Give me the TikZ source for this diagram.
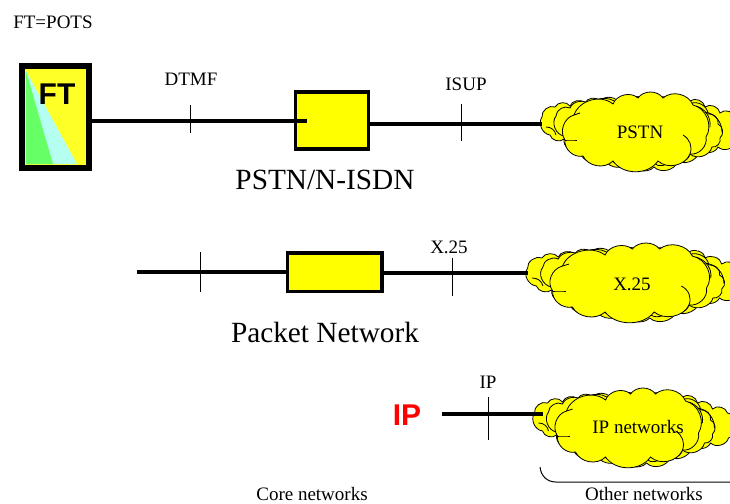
\documentclass[tikz,border=0pt]{standalone}
\usepackage{fontspec}
\setmainfont{Liberation Serif}
\newfontfamily\labelsans{Liberation Sans}
\definecolor{cloudyellow}{RGB}{255,255,0}
\definecolor{ftyellow}{RGB}{255,255,40}
\definecolor{ftgreen}{RGB}{102,255,102}
\definecolor{ftcyan}{RGB}{180,255,240}
\tikzset{
    wire/.style={line width=3.5pt},
    tick/.style={line width=1pt},
    netbox/.style={draw,line width=3.5pt,fill=cloudyellow,rectangle,minimum width=#1,inner sep=0pt},
    puff/.style={draw,line width=0.8pt,fill=cloudyellow,bend left=#1},
    curl/.style={line width=0.8pt,bend left=40},
    small/.style={font=\fontsize{19}{19}\selectfont},
    big/.style={font=\fontsize{29.3}{29.3}\selectfont},
    sanslabel/.style={font=\labelsans\bfseries\fontsize{30}{30}\selectfont},
    netcloud/.pic={
        %% back lobes
        \path[puff=60] (-98,-15) to (-85,-25) to (-70,-26) to (-55,-29) to (-40,-31) to (-20,-28) to (10,-28)
            to (35,-30) to (50,-31) to (65,-25) to (80,-19) to (95,-15) to (102,-3) to (96,10) to (78,15)
            to (60,17) to (38,29) to (14,35) to (-10,30) to (-35,28) to (-60,20) to (-76,7) to (-90,3) to cycle;
        %% middle lobes
        \path[puff=60] (-84,-16) to (-70,-24) to (-50,-27) to (-20,-25) to (20,-25) to (50,-28) to (68,-18)
            to (78,-8) to (80,6) to (72,15) to (50,22) to (30,28) to (14,31) to (-10,28) to (-30,26)
            to (-50,18) to (-64,12) to (-76,4) to cycle;
        %% front cloud
        \path[puff=55] (-66,-17) to (-27,-28) to (-2,-34) to (23,-34) to (53,-27) to (66,5) to (50,22)
            to (18,29) to (-27,29) to (-57,24) to (-75,8) to cycle;
        \draw[curl] (43,3) to (50,22);
        \draw[curl] (-94,-5) to (-84,3);
        \draw[curl] (56,-26) to (70,-5);
        \draw[curl] (65,-20) to (82,0);
        \draw[curl,bend left=0] (-75,8) to (-63,8);
        \draw[curl,bend left=0] (-66,-17) to (-60,-19);
        \coordinate (-west) at (-98,-8);
    },
}
\begin{document}
\begin{tikzpicture}[x=1pt,y=-1pt]
    \clip (0,0) rectangle (730,503);
    \useasboundingbox (0,0) rectangle (730,503);
    %% Row 1
    \node[small] (pots) at (53,22) {FT=POTS};
    \node[draw,line width=6pt,fill=ftyellow,rectangle,minimum width=67pt,minimum height=102pt,inner sep=0pt] (ft) at (55.5,117) {};
    \fill[ftcyan] (ft.north west) ++(7,8) -- ++(0,93) -- ++(51,0) -- cycle;
    \fill[ftgreen] (ft.north west) ++(7,8) -- ++(0,93) -- ++(27,0) -- cycle;
    \node[sanslabel] (ftname) at (57,94) {FT};
    \node[netbox=73pt,minimum height=57pt] (switch) at (332,120.5) {};
    \coordinate (switchin) at (307,121);
    \pic (pstn) at (640,132) {netcloud};
    \node[small] (pstnname) at (640,132) {PSTN};
    \draw[wire] (ft.east |- switchin) -- (switchin);
    \draw[wire] (switch.east |- 0,124) -- (pstn-west |- 0,124);
    \coordinate (dtmftop) at (190,105);
    \coordinate (dtmfbot) at (190,133);
    \coordinate (isuptop) at (461,104);
    \coordinate (isupbot) at (461,141);
    \draw[tick] (dtmftop) -- (dtmfbot);
    \draw[tick] (isuptop) -- (isupbot);
    \node[small] (dtmf) at (191,79) {DTMF};
    \node[small] (isup) at (466,84) {ISUP};
    \node[big] (pstncaption) at (325,180) {PSTN/N-ISDN};
    %% Row 2
    \coordinate (packetin) at (137,272);
    \node[netbox=94.5pt,minimum height=38.5pt] (packet) at (334.5,272) {};
    \pic[xscale=1.09] (xnet) at (634.5,283) {netcloud};
    \node[small] (xnetname) at (632,284) {X.25};
    \draw[wire] (packetin) -- (packet.west);
    \draw[wire] (packet.east) ++(0,1) -- (xnet-west |- 0,273);
    \coordinate (intop) at (200,252);
    \coordinate (inbot) at (200,292);
    \coordinate (xtop) at (452,258);
    \coordinate (xbot) at (452,296);
    \draw[tick] (intop) -- (inbot);
    \draw[tick] (xtop) -- (xbot);
    \node[small] (xname) at (449,247) {X.25};
    \node[big] (packetcaption) at (325,332) {Packet Network};
    %% Row 3
    \node[sanslabel,text=red] (ipname) at (407,415) {IP};
    \pic (ipnet) at (632.5,428) {netcloud};
    \node[small] (ipnetname) at (638,427) {IP networks};
    \coordinate (ipin) at (442,414);
    \coordinate (ipout) at (543,414);
    \draw[line width=4.5pt] (ipin) -- (ipout);
    \coordinate (iptop) at (488,397);
    \coordinate (ipbot) at (488,440);
    \draw[tick] (iptop) -- (ipbot);
    \node[small] (iplabel) at (488,382) {IP};
    %% Brace and captions
    \coordinate (bracel) at (540,467);
    \coordinate (bracer) at (730,482);
    \draw[line width=1pt] (bracel) .. controls (541,476) and (547,482) .. (556,482) -- (bracer);
    \node[small] (core) at (312,493.5) {Core networks};
    \node[small] (other) at (644,493.5) {Other networks};
\end{tikzpicture}
\end{document}
